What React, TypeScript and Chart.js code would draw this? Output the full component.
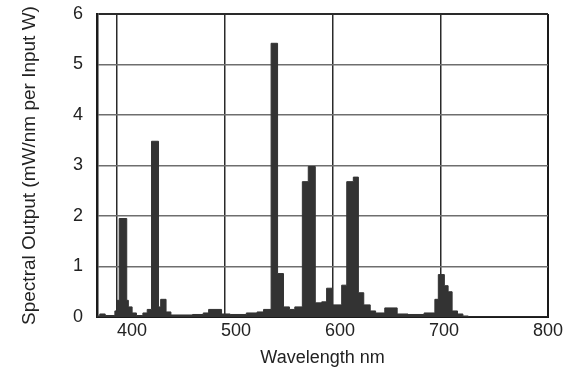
import React, { useEffect, useRef } from "react";
import { Chart, registerables } from "chart.js";

Chart.register(...registerables);

// Bin start wavelength (nm) and spectral output (mW/nm per Input W), stepped
const wavelengths = [380, 384, 389, 398, 400, 402, 409, 410.5, 414, 418, 424, 428, 432, 438.5, 440.5, 445.5, 450, 470, 480, 485, 497, 505, 520, 530, 536, 543, 549, 554.5, 560, 565, 572, 577.5, 584, 590, 594.5, 600, 608.5, 613.2, 619.3, 624, 629, 635, 640, 648.5, 660, 670, 685, 695, 698.2, 703.8, 707.3, 711, 716, 721, 726, 800];
const output = [0.02, 0.06, 0.03, 0.12, 0.33, 1.95, 0.33, 0.2, 0.08, 0.03, 0.08, 0.15, 3.48, 0.2, 0.35, 0.1, 0.04, 0.05, 0.08, 0.15, 0.06, 0.05, 0.08, 0.1, 0.15, 5.42, 0.86, 0.2, 0.15, 0.2, 2.68, 2.98, 0.28, 0.3, 0.57, 0.24, 0.63, 2.68, 2.77, 0.48, 0.24, 0.12, 0.08, 0.18, 0.06, 0.05, 0.08, 0.35, 0.84, 0.62, 0.5, 0.12, 0.06, 0.02, 0, 0];

const gridWavelengths = [400, 500, 600, 700, 800];
const xTickLabels = [400, 500, 600, 700, 800];
const yTicks = [0, 1, 2, 3, 4, 5, 6];

const FONT = "'Liberation Sans', Arial, sans-serif";

export default function App() {
  const ref = useRef<HTMLCanvasElement | null>(null);

  useEffect(() => {
    if (!ref.current) return;
    const chart = new Chart(ref.current, {
      type: "line",
      data: {
        datasets: [
          {
            data: wavelengths.map((w, i) => ({ x: w, y: output[i] })),
            stepped: true,
            fill: "origin",
            backgroundColor: "#333333",
            borderColor: "#333333",
            borderWidth: 1,
            pointRadius: 0,
            xAxisID: "x",
            yAxisID: "y",
          },
        ],
      },
      options: {
        animation: false,
        responsive: true,
        maintainAspectRatio: false,
        layout: { padding: { top: 14, right: 24, bottom: 0, left: 0 } },
        plugins: { legend: { display: false }, tooltip: { enabled: false } },
        scales: {
          x: {
            type: "linear",
            position: "bottom",
            weight: 0,
            min: 381.4,
            max: 800,
            afterBuildTicks: (s: any) => {
              s.ticks = gridWavelengths.map((v) => ({ value: v }));
            },
            afterFit: (s: any) => {
              s.height = 0;
            },
            ticks: { display: false },
            grid: {
              drawTicks: false,
              color: (ctx: any) => (ctx.tick && ctx.tick.value === 800 ? "#1a1a1a" : "#2a2a2a"),
              lineWidth: (ctx: any) => (ctx.tick && ctx.tick.value === 800 ? 2 : 1.5),
            },
            border: { display: false },
          },
          xt: {
            type: "linear",
            position: "bottom",
            weight: 1,
            min: 366.3,
            max: 800,
            afterBuildTicks: (s: any) => {
              s.ticks = xTickLabels.map((v) => ({ value: v }));
            },
            afterFit: (s: any) => {
              s.height = 52;
            },
            ticks: {
              padding: 3,
              color: "#222",
              font: { family: FONT, size: 18 },
              maxRotation: 0,
            },
            grid: { display: false, drawTicks: false },
            border: { display: true, color: "#1a1a1a", width: 2 },
            title: {
              display: true,
              text: "Wavelength nm",
              color: "#222",
              font: { family: FONT, size: 18 },
              padding: { top: 0, bottom: 0 },
            },
          },
          y: {
            type: "linear",
            position: "left",
            min: 0,
            max: 6,
            afterBuildTicks: (s: any) => {
              s.ticks = yTicks.map((v) => ({ value: v }));
            },
            afterFit: (s: any) => {
              s.width = 97;
              s.paddingTop = 0;
              s.paddingBottom = 0;
            },
            ticks: {
              padding: 14,
              color: "#222",
              font: { family: FONT, size: 18 },
            },
            grid: {
              drawTicks: false,
              color: (ctx: any) => (ctx.tick && ctx.tick.value === 6 ? "#2a2a2a" : "#6e6e6e"),
              lineWidth: (ctx: any) => (ctx.tick && ctx.tick.value === 6 ? 2 : 1.5),
            },
            border: { display: true, color: "#1a1a1a", width: 2.5 },
            title: {
              display: true,
              text: "Spectral Output (mW/nm per Input W)",
              color: "#222",
              font: { family: FONT, size: 19 },
              padding: { top: 18, bottom: 0 },
            },
          },
        },
      },
    });
    return () => chart.destroy();
  }, []);

  return (
    <div style={{ position: "fixed", left: 0, top: 0, width: 572, height: 369, background: "#fff" }}>
      <canvas ref={ref} />
    </div>
  );
}
